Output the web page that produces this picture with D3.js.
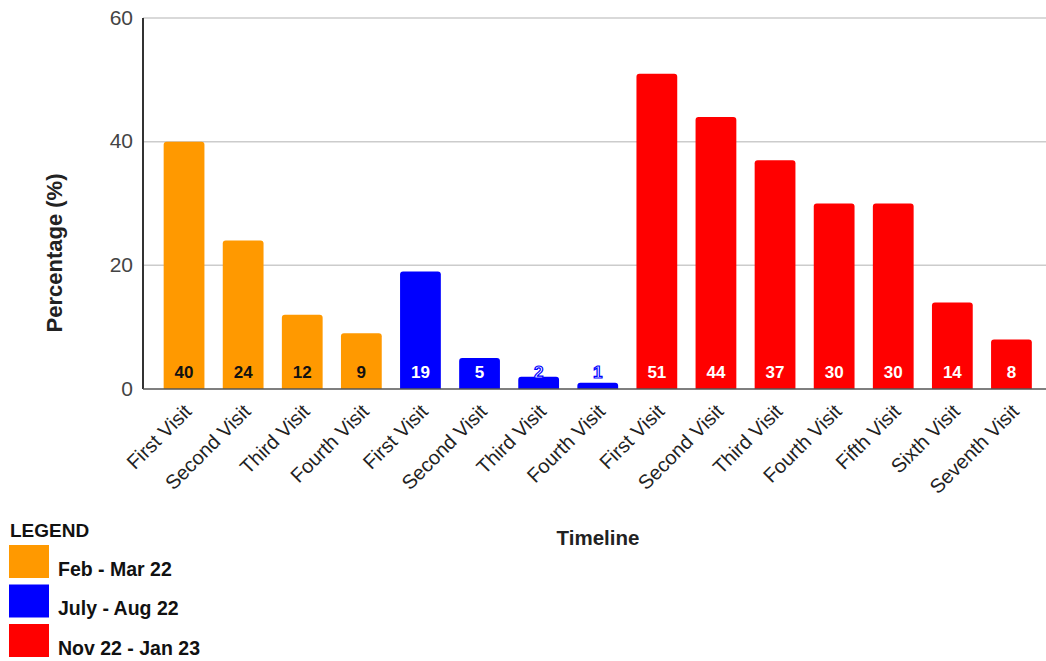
<!DOCTYPE html>
<html><head><meta charset="utf-8">
<script src="https://cdn.jsdelivr.net/npm/d3@7"></script>
<style>body{margin:0;background:#fff;font-family:"Liberation Sans",Arial,sans-serif;}</style>
</head><body><svg id="c" width="1046" height="661"></svg>
<script>
const categories = ["First Visit","Second Visit","Third Visit","Fourth Visit","First Visit","Second Visit","Third Visit","Fourth Visit","First Visit","Second Visit","Third Visit","Fourth Visit","Fifth Visit","Sixth Visit","Seventh Visit"];
const values = [40,24,12,9,19,5,2,1,51,44,37,30,30,14,8];
const groups = [0,0,0,0,1,1,1,1,2,2,2,2,2,2,2];
const seriesNames = ["Feb - Mar 22","July - Aug 22","Nov 22 - Jan 23"];
const seriesColors = ["#FF9900","#0000FF","#FF0000"];
const labelColors = ["#111","#fff","#fff"];
const yTicks = [0,20,40,60];

const svg = d3.select("#c");
const FF = "Liberation Sans, Arial, sans-serif";
const x0 = 143, x1 = 1046, yTop = 18, yBot = 389;
const x = d3.scaleBand().domain(d3.range(categories.length)).range([154.5, 1041]).paddingInner(0.31).paddingOuter(0.155);
const y = d3.scaleLinear().domain([0,60]).range([yBot, yTop]);

// gridlines
svg.append("g").selectAll("line").data(yTicks.filter(d=>d>0)).join("line")
  .attr("x1",x0).attr("x2",x1).attr("y1",d=>y(d)).attr("y2",d=>y(d))
  .attr("stroke","#ccc").attr("stroke-width",1.5);

// y tick labels
const yAxis = d3.axisLeft(y).tickValues(yTicks).tickSize(0).tickPadding(10);
const ga = svg.append("g").attr("transform",`translate(${x0},0)`).call(yAxis);
ga.select(".domain").remove();
ga.selectAll("text").attr("font-family",FF).attr("font-size",21).attr("fill","#444").attr("dy","0.3em");

// bars
const r = 3;
function barPath(i){
  const bx = x(i), bw = x.bandwidth(), by = y(values[i]), bh = yBot - by;
  const rr = Math.min(r, bh/2, bw/2);
  return `M${bx},${yBot}V${by+rr}Q${bx},${by} ${bx+rr},${by}H${bx+bw-rr}Q${bx+bw},${by} ${bx+bw},${by+rr}V${yBot}Z`;
}
svg.append("g").selectAll("path").data(d3.range(values.length)).join("path")
  .attr("d",barPath).attr("fill",i=>seriesColors[groups[i]]);

// value labels
svg.append("g").selectAll("text").data(d3.range(values.length)).join("text")
  .attr("x",i=>x(i)+x.bandwidth()/2).attr("y",yBot-11)
  .attr("text-anchor","middle").attr("font-weight","bold").attr("font-size",17).attr("font-family",FF)
  .attr("fill",i=>labelColors[groups[i]])
  .attr("stroke",i=>(yBot-y(values[i]))<20 ? seriesColors[groups[i]] : "none")
  .attr("stroke-width",1.2)
  .text(i=>values[i]);

// axes lines
svg.append("line").attr("x1",x0).attr("x2",x0).attr("y1",yTop).attr("y2",yBot).attr("stroke","#333").attr("stroke-width",2);
svg.append("line").attr("x1",x0).attr("x2",x1).attr("y1",yBot).attr("y2",yBot).attr("stroke","#555").attr("stroke-width",1.5);

// x labels
const xAxis = d3.axisBottom(x).tickFormat(i=>categories[i]).tickSize(0).tickPadding(0);
const gx = svg.append("g").attr("transform",`translate(0,${yBot})`).call(xAxis);
gx.select(".domain").remove();
gx.selectAll("text").attr("font-family",FF).attr("font-size",20).attr("fill","#222")
  .attr("text-anchor","end").attr("dy",null).attr("y",0)
  .attr("transform","translate(5,20) rotate(-45)").attr("dominant-baseline","middle");

// axis titles
svg.append("text").attr("transform","translate(62,253) rotate(-90)").attr("text-anchor","middle").attr("font-family",FF)
  .attr("font-weight","bold").attr("font-size",22).attr("fill","#222").text("Percentage (%)");
svg.append("text").attr("x",598).attr("y",545).attr("text-anchor","middle").attr("font-family",FF)
  .attr("font-weight","bold").attr("font-size",20.5).attr("fill","#222").text("Timeline");

// legend
svg.append("text").attr("x",10).attr("y",537).attr("font-weight","bold").attr("font-size",19).attr("font-family",FF).attr("fill","#111").text("LEGEND");
const lg = svg.append("g").selectAll("g").data(seriesNames).join("g")
  .attr("transform",(d,i)=>`translate(9,${545+i*39.5})`);
lg.append("rect").attr("width",40).attr("height",33).attr("fill",(d,i)=>seriesColors[i]);
lg.append("text").attr("x",49).attr("y",30.5).attr("font-weight","bold").attr("font-size",19.5).attr("font-family",FF).attr("fill","#111").text(d=>d);
</script></body></html>
